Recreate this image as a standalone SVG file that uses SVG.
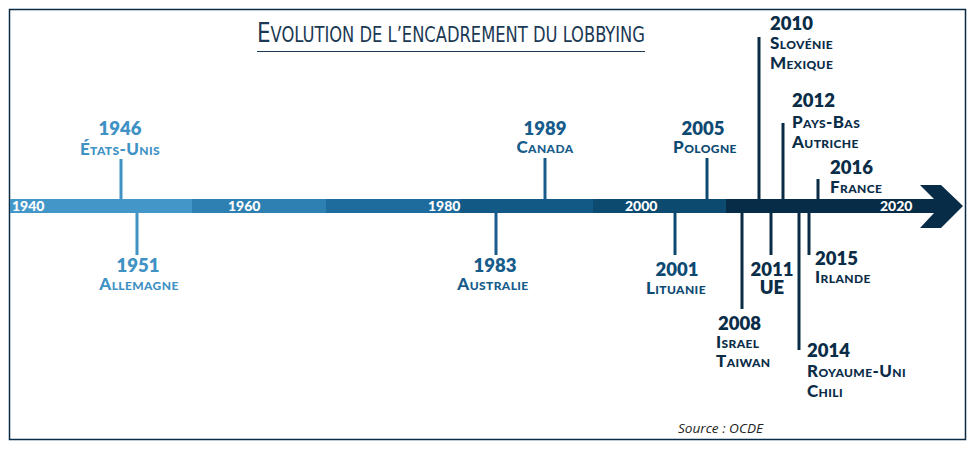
<svg xmlns="http://www.w3.org/2000/svg" width="980" height="450" viewBox="0 0 980 450">
<style>
.yr{font-family:Lato,"Noto Sans",sans-serif;font-weight:800;font-size:18.5px}
.lb{font-family:Lato,"Noto Sans",sans-serif;font-weight:900;font-size:17px;font-variant:small-caps;letter-spacing:0.4px}
.tk{font-family:Lato,"Noto Sans",sans-serif;font-weight:900;font-size:14px;fill:#fff}
.c1{fill:#3f92c4}.s1{stroke:#3f92c4}
.c2{fill:#175c8b}.s2{stroke:#175c8b}
.c3{fill:#0d4a72}.s3{stroke:#0d4a72}
.c4{fill:#0a2c47}.s4{stroke:#0a2c47}
.ln{stroke-width:3;fill:none}
</style>
<rect x="9.5" y="9.5" width="956" height="430" fill="#fff" stroke="#0a2b45" stroke-width="1.5"/>
<g id="title">
<text x="257" y="42" font-family="'DejaVu Sans Condensed','DejaVu Sans',sans-serif" font-stretch="condensed" font-weight="200" fill="#1b3953" textLength="388" lengthAdjust="spacingAndGlyphs"><tspan font-size="27">E</tspan><tspan font-size="20.5">VOLUTION DE L’ENCADREMENT DU LOBBYING</tspan></text>
<line x1="257" y1="51.5" x2="645" y2="51.5" stroke="#1b3953" stroke-width="1"/>
</g>
<g id="timeline">
<rect x="10" y="199" width="182" height="14" fill="#4397c8"/>
<rect x="192" y="199" width="134" height="14" fill="#2e80b3"/>
<rect x="326" y="199" width="134" height="14" fill="#1d6c9d"/>
<rect x="460" y="199" width="133" height="14" fill="#135985"/>
<rect x="593" y="199" width="133" height="14" fill="#0c4a70"/>
<path d="M726,199 H934 L920,185 H941 L963,206 L941,228 H920 L934,213 H726 Z" fill="#062c47"/>
<text class="tk" x="12" y="211">1940</text>
<text class="tk" x="228" y="211">1960</text>
<text class="tk" x="428" y="211">1980</text>
<text class="tk" x="625" y="211">2000</text>
<text class="tk" x="880" y="211">2020</text>
</g>
<g id="connectors">
<line class="ln s1" x1="121" y1="159" x2="121" y2="199"/>
<line class="ln s1" x1="137" y1="213" x2="137" y2="255"/>
<line class="ln s2" x1="496" y1="213" x2="496" y2="255"/>
<line class="ln s2" x1="545" y1="158" x2="545" y2="199"/>
<line class="ln s3" x1="675" y1="213" x2="675" y2="255"/>
<line class="ln s3" x1="707" y1="158" x2="707" y2="199"/>
<line class="ln s4" x1="742" y1="213" x2="742" y2="309"/>
<line class="ln s4" x1="759" y1="37" x2="759" y2="199"/>
<line class="ln s4" x1="771" y1="213" x2="771" y2="255"/>
<line class="ln s4" x1="783" y1="123" x2="783" y2="199"/>
<line class="ln s4" x1="799" y1="213" x2="799" y2="350"/>
<line class="ln s4" x1="809" y1="213" x2="809" y2="255"/>
<line class="ln s4" x1="818" y1="179" x2="818" y2="199"/>
</g>
<g id="e1946" class="c1" text-anchor="middle">
<text class="yr" x="120" y="135">1946</text>
<text class="lb" x="120" y="155">États-Unis</text>
</g>
<g id="e1951" class="c1" text-anchor="middle">
<text class="yr" x="138" y="272">1951</text>
<text class="lb" x="139" y="290">Allemagne</text>
</g>
<g id="e1983" class="c2" text-anchor="middle">
<text class="yr" x="495" y="272">1983</text>
<text class="lb" x="493" y="290">Australie</text>
</g>
<g id="e1989" class="c2" text-anchor="middle">
<text class="yr" x="545" y="135">1989</text>
<text class="lb" x="545" y="153">Canada</text>
</g>
<g id="e2001" class="c3" text-anchor="middle">
<text class="yr" x="677" y="276">2001</text>
<text class="lb" x="676" y="294">Lituanie</text>
</g>
<g id="e2005" class="c3" text-anchor="middle">
<text class="yr" x="703" y="135">2005</text>
<text class="lb" x="705" y="153">Pologne</text>
</g>
<g id="e2008" class="c4">
<text class="yr" x="718" y="330">2008</text>
<text class="lb" x="716" y="348">Israel</text>
<text class="lb" x="716" y="367">Taiwan</text>
</g>
<g id="e2010" class="c4">
<text class="yr" x="770" y="30">2010</text>
<text class="lb" x="770" y="49">Slovénie</text>
<text class="lb" x="770" y="69">Mexique</text>
</g>
<g id="e2011" class="c4" text-anchor="middle">
<text class="yr" x="772" y="276">2011</text>
<text class="yr" x="772" y="294">UE</text>
</g>
<g id="e2012" class="c4">
<text class="yr" x="792" y="107">2012</text>
<text class="lb" x="792" y="128">Pays-Bas</text>
<text class="lb" x="792" y="148">Autriche</text>
</g>
<g id="e2014" class="c4">
<text class="yr" x="807" y="357">2014</text>
<text class="lb" x="807" y="377">Royaume-Uni</text>
<text class="lb" x="807" y="397">Chili</text>
</g>
<g id="e2015" class="c4">
<text class="yr" x="815" y="265">2015</text>
<text class="lb" x="815" y="283">Irlande</text>
</g>
<g id="e2016" class="c4">
<text class="yr" x="830" y="174">2016</text>
<text class="lb" x="830" y="193">France</text>
</g>
<text x="678" y="433" font-family="'Open Sans',sans-serif" font-style="italic" font-size="13" fill="#222" textLength="85" lengthAdjust="spacingAndGlyphs">Source : OCDE</text>
</svg>
